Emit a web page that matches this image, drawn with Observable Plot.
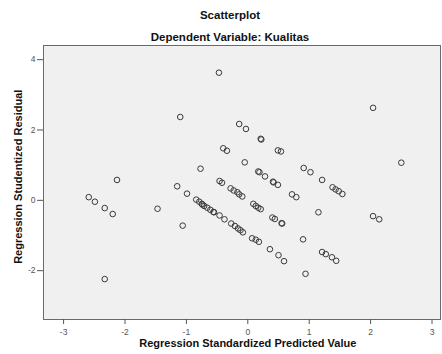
<!DOCTYPE html>
<html>
<head>
<meta charset="utf-8">
<script src="https://cdn.jsdelivr.net/npm/d3@7"></script>
<script src="https://cdn.jsdelivr.net/npm/@observablehq/plot@0.6"></script>
<style>
  html, body { margin: 0; padding: 0; background: #ffffff; }
  #wrap { position: relative; width: 442px; height: 354px; font-family: "Liberation Sans", Arial, sans-serif; }
  .t { position: absolute; left: 18px; width: 424px; text-align: center; font-weight: bold; font-size: 11.5px; color: #111; line-height: 14px; }
  #chart { position: absolute; left: 0; top: 45px; }
  #chart svg { overflow: visible; }
</style>
</head>
<body>
<div id="wrap">
  <div class="t" style="top:8px">Scatterplot</div>
  <div class="t" style="top:30px">Dependent Variable: Kualitas</div>
  <div id="chart"></div>
</div>
<script>
const title = "Scatterplot";
const subtitle = "Dependent Variable: Kualitas";
const xLabel = "Regression Standardized Predicted Value";
const yLabel = "Regression Studentized Residual";
const xTicks = [-3, -2, -1, 0, 1, 2, 3];
const yTicks = [-2, 0, 2, 4];

// Regression standardized predicted values
const predicted = [
  -0.47, -1.10, 2.04, 2.50, -2.13, -2.59, -2.49, -2.33, -2.20, -2.33,
  -1.47, -1.06, 0.90, 0.94, 1.21, 1.27, 1.37, 1.44,
  0.07, 0.13, 0.18, 0.36, 0.50, 0.59,
  -0.84, -0.79, -0.75, -0.74, -0.71, -0.66, -0.61, -0.56, -0.55, -0.46, -0.38, -0.27, -0.21, -0.16, -0.12, -0.08,
  -1.15, -0.99, -0.46, -0.42, -0.28, -0.23, -0.17, -0.14, -0.09, 0.09, 0.13, 0.17, 0.21, 0.40, 0.44, 0.55, 0.56,
  -0.77, -0.05, 0.17, 0.19, 0.28, 0.41, 0.42, 0.49, 0.72, 0.79, 1.15,
  -0.40, -0.34, 0.49, 0.54, 0.91, 1.02, 1.21, 1.38, 1.43, 1.48, 1.54, 2.04, 2.14,
  -0.14, -0.03, 0.21, 0.22
];
// Regression studentized residuals
const residual = [
  3.63, 2.37, 2.63, 1.07, 0.58, 0.09, -0.04, -0.22, -0.39, -2.24,
  -0.24, -0.72, -1.11, -2.09, -1.47, -1.53, -1.62, -1.72,
  -1.08, -1.12, -1.18, -1.39, -1.56, -1.73,
  0.02, -0.04, -0.10, -0.12, -0.16, -0.21, -0.27, -0.33, -0.34, -0.43, -0.54, -0.66, -0.73, -0.80, -0.85, -0.91,
  0.40, 0.19, 0.55, 0.50, 0.34, 0.28, 0.23, 0.17, 0.11, -0.10, -0.16, -0.21, -0.25, -0.49, -0.53, -0.65, -0.66,
  0.90, 1.08, 0.82, 0.80, 0.68, 0.53, 0.51, 0.44, 0.17, 0.09, -0.34,
  1.48, 1.41, 1.42, 1.39, 0.92, 0.80, 0.58, 0.37, 0.31, 0.26, 0.18, -0.45, -0.54,
  2.17, 2.03, 1.75, 1.73
];

const points = predicted.map((x, i) => ({x, y: residual[i]}));
const fmt = d => String(d);

const chart = Plot.plot({
  width: 442,
  height: 309,
  marginTop: 0,
  marginLeft: 43,
  marginRight: 2,
  marginBottom: 35,
  style: { fontFamily: "'Liberation Sans', Arial, sans-serif", background: "transparent", overflow: "visible" },
  x: { domain: [-3.327, 3.138] },
  y: { domain: [-3.389, 4.403] },
  marks: [
    Plot.frame({ fill: "#f0f0f0", stroke: "#6a6a6a", strokeWidth: 1 }),
    Plot.axisX({ ticks: xTicks, tickSize: 5, tickPadding: 4, tickFormat: fmt, fontSize: 8.5, color: "#555", stroke: "#555", label: null }),
    Plot.axisY({ ticks: yTicks, tickSize: 6, tickPadding: 2, tickFormat: fmt, fontSize: 8.5, color: "#555", stroke: "#555", label: null }),
    Plot.dot(points, { x: "x", y: "y", r: 2.8, stroke: "#3a3a3a", strokeWidth: 1, fill: "none" }),
    Plot.text([xLabel], { x: [0], frameAnchor: "bottom", dy: 27, text: d => d, fontSize: 11, fontWeight: "bold", fill: "#111" }),
    Plot.text([yLabel], { y: [0.67], frameAnchor: "left", dx: -25, rotate: -90, textAnchor: "middle", text: d => d, fontSize: 11, fontWeight: "bold", fill: "#111" })
  ]
});
document.getElementById("chart").appendChild(chart);
</script>
</body>
</html>
